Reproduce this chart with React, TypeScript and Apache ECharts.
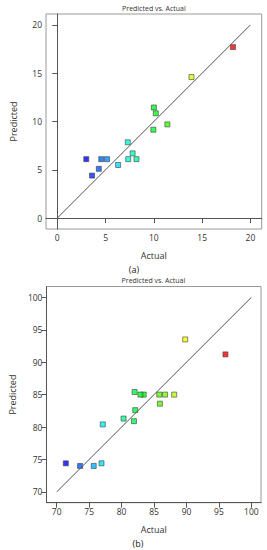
import React, { useEffect, useRef } from "react";
import * as echarts from "echarts";

// Panel (a)
const actualA = [18.2, 13.9, 10.0, 10.2, 11.4, 9.95, 7.3, 7.8, 7.35, 8.2, 6.3, 3.0, 4.55, 5.15, 4.3, 3.6];
const predictedA = [17.7, 14.6, 11.45, 10.85, 9.7, 9.15, 7.85, 6.7, 6.1, 6.1, 5.5, 6.1, 6.1, 6.1, 5.1, 4.4];
const ticksA = [0, 5, 10, 15, 20];

// Panel (b)
const actualB = [96.0, 89.8, 88.1, 86.7, 85.8, 83.4, 82.9, 82.0, 85.9, 82.1, 81.9, 80.3, 77.1, 76.9, 75.7, 73.6, 71.4];
const predictedB = [91.2, 93.5, 85.0, 85.0, 85.0, 85.0, 85.0, 85.4, 83.6, 82.6, 80.9, 81.3, 80.4, 74.4, 74.0, 74.0, 74.4];
const ticksB = [70, 75, 80, 85, 90, 95, 100];

const titleText = "Predicted vs. Actual";
const xName = "Actual";
const yName = "Predicted";
const captions = ["(a)", "(b)"];

const FONT = "'Open Sans', 'Noto Sans', sans-serif";
const palette = ["#0000ff", "#00ffff", "#00ff00", "#ffff00", "#ff0000"];

export default function App() {
  const ref = useRef<HTMLDivElement>(null);
  useEffect(() => {
    document.body.style.margin = "0";
    const chart = echarts.init(ref.current!, null, { renderer: "svg" });
    const axisCommon = (ticks: number[], min: number, max: number) => ({
      type: "value",
      min,
      max,
      splitLine: { show: false },
      axisLine: { show: true, lineStyle: { color: "#555", width: 1 } },
      axisTick: { show: true, length: 5, inside: false, lineStyle: { color: "#555" }, customValues: ticks },
      axisLabel: { color: "#333", fontSize: 8.5, fontFamily: FONT, margin: 4, customValues: ticks },
      nameTextStyle: { color: "#333", fontSize: 9, fontFamily: FONT },
      nameLocation: "middle",
    });
    const grids = [
      { left: 46, top: 14, width: 215.7, height: 215 },
      { left: 45.7, top: 286.5, width: 215.3, height: 216.2 },
    ];
    chart.setOption({
      animation: false,
      grid: grids.map((g) => ({ ...g, show: true, borderColor: "#999", borderWidth: 1, backgroundColor: "#fff" })),
      xAxis: [
        { ...axisCommon(ticksA, -1.17, 21.17), gridIndex: 0, name: xName, nameGap: 22 },
        { ...axisCommon(ticksB, 68.42, 101.48), gridIndex: 1, name: xName, nameGap: 22 },
      ],
      yAxis: [
        { ...axisCommon(ticksA, -1.13, 21.13), gridIndex: 0, name: yName, nameGap: 28 },
        { ...axisCommon(ticksB, 68.33, 101.67), gridIndex: 1, name: yName, nameGap: 28 },
      ],
      visualMap: [
        {
          type: "continuous",
          show: false,
          seriesIndex: 1,
          dimension: 0,
          min: Math.min(...actualA),
          max: Math.max(...actualA),
          inRange: { color: palette },
        },
        {
          type: "continuous",
          show: false,
          seriesIndex: 3,
          dimension: 0,
          min: Math.min(...actualB),
          max: Math.max(...actualB),
          inRange: { color: palette },
        },
      ],
      series: [
        {
          type: "line",
          xAxisIndex: 0,
          yAxisIndex: 0,
          data: [[ticksA[0], ticksA[0]], [ticksA[ticksA.length - 1], ticksA[ticksA.length - 1]]],
          showSymbol: false,
          lineStyle: { color: "#555", width: 1 },
          silent: true,
        },
        {
          type: "scatter",
          xAxisIndex: 0,
          yAxisIndex: 0,
          symbol: "rect",
          symbolSize: 5,
          itemStyle: { borderColor: "#444", borderWidth: 0.8 },
          data: actualA.map((x, i) => [x, predictedA[i]]),
        },
        {
          type: "line",
          xAxisIndex: 1,
          yAxisIndex: 1,
          data: [[ticksB[0], ticksB[0]], [ticksB[ticksB.length - 1], ticksB[ticksB.length - 1]]],
          showSymbol: false,
          lineStyle: { color: "#555", width: 1 },
          silent: true,
        },
        {
          type: "scatter",
          xAxisIndex: 1,
          yAxisIndex: 1,
          symbol: "rect",
          symbolSize: 5,
          itemStyle: { borderColor: "#444", borderWidth: 0.8 },
          data: actualB.map((x, i) => [x, predictedB[i]]),
        },
      ],
      graphic: [
        { type: "text", x: 153.9, y: 8, style: { text: titleText, textAlign: "center", textVerticalAlign: "middle", fontSize: 7, fontFamily: FONT, fill: "#333" } },
        { type: "text", x: 153.4, y: 280.5, style: { text: titleText, textAlign: "center", textVerticalAlign: "middle", fontSize: 7, fontFamily: FONT, fill: "#333" } },
        { type: "text", x: 134, y: 269, style: { text: captions[0], textAlign: "center", textVerticalAlign: "middle", fontSize: 9, fontFamily: FONT, fill: "#222" } },
        { type: "text", x: 138, y: 543, style: { text: captions[1], textAlign: "center", textVerticalAlign: "middle", fontSize: 9, fontFamily: FONT, fill: "#222" } },
      ],
    });
    return () => chart.dispose();
  }, []);
  return <div ref={ref} style={{ width: 267, height: 550 }} />;
}
